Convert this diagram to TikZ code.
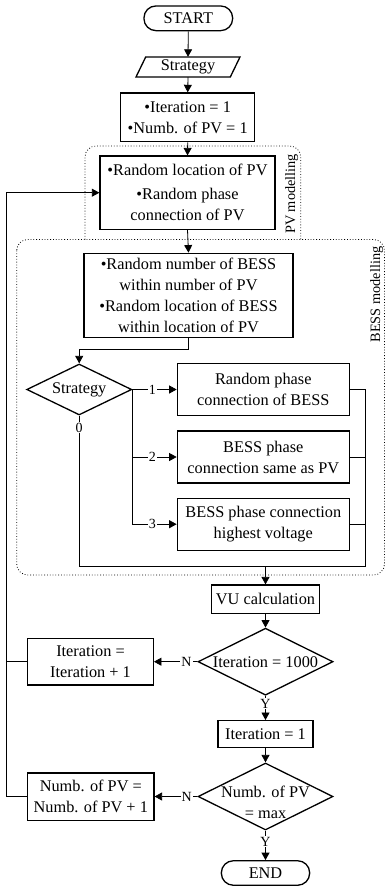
\documentclass[tikz,border=0pt]{standalone}
\usepackage{fontspec}
\setmainfont{Liberation Serif}
\usetikzlibrary{arrows.meta,shapes.geometric}
\newcommand\fsMain{\fontsize{16.3}{21}\selectfont}
\newcommand\fsLab{\fontsize{14}{16}\selectfont}
\newcommand\fsReg{\fontsize{14.3}{16}\selectfont}
\begin{document}
\begin{tikzpicture}[x=1pt,y=-1pt,
  box/.style={draw, line width=1.3pt, inner sep=0pt, align=center, font=\fsMain},
  term/.style={box, rounded corners=12pt},
  dia/.style={draw, line width=1.3pt, diamond, inner sep=0pt, aspect=2},
  txt/.style={inner sep=0pt, align=center, font=\fsMain},
  conn/.style={line width=0.8pt},
  arr/.style={conn, -{Triangle[length=7.5pt,width=8pt]}},
  lab/.style={fill=white, inner sep=1pt, font=\fsLab},
  region/.style={dotted, line width=0.8pt, rounded corners=11pt},
]
\useasboundingbox (0,0) rectangle (386,886);

% regions
\draw[region] (85,239.5) |- (300.7,146) -- (300.7,239.5);
\draw[region] (16.7,239.5) rectangle (384.5,575);
\node[font=\fsReg, rotate=90, inner sep=0pt] (pvlab) at (291.7,194) {PV modelling};
\node[font=\fsReg, rotate=90, inner sep=0pt] (besslab) at (376.7,294.5) {BESS modelling};

% nodes
\node[term, minimum width=88.7pt, minimum height=24.7pt] (start) at (188.3,18.3) {START};
\node[txt, minimum width=94pt, minimum height=20pt] (strat) at (188,67) {Strategy};
\draw[line width=1.3pt] (136,77) -- (145.7,57) -- (240,57) -- (230.3,77) -- cycle;
\node[box, minimum width=134pt, minimum height=48.7pt] (it1) at (187.7,117.3) {•Iteration = 1\\•Numb. of PV = 1};
\node[box, minimum width=175pt, minimum height=73.3pt] (pv) at (187.5,192.7) {•Random location of PV\\[3pt]•Random phase\\connection of PV};
\node[box, minimum width=209pt, minimum height=84.5pt] (bess) at (188.5,295.5) {•Random number of BESS\\within number of PV\\•Random location of BESS\\within location of PV};
\node[dia, minimum width=105pt, minimum height=51pt] (sdia) at (79.2,389.5) {};
\node[txt] (sdiat) at (79.2,389.5) {Strategy};
\node[box, minimum width=172pt, minimum height=52pt] (b1) at (263.3,389.5) {Random phase\\connection of BESS};
\node[box, minimum width=172pt, minimum height=52pt] (b2) at (263.3,457) {BESS phase\\connection same as PV};
\node[box, minimum width=172pt, minimum height=52pt] (b3) at (263.3,524.2) {BESS phase connection\\highest voltage};
\node[box, minimum width=107.6pt, minimum height=28.3pt] (vu) at (265.5,599.2) {VU calculation};
\node[dia, minimum width=135pt, minimum height=67pt] (d1) at (265.5,661.7) {};
\node[txt] (d1t) at (265.5,661.7) {Iteration = 1000};
\node[box, minimum width=125.6pt, minimum height=46.7pt] (inc) at (90.5,661.7) {Iteration =\\Iteration + 1};
\node[box, minimum width=95pt, minimum height=27pt] (it1b) at (265.5,734.2) {Iteration = 1};
\node[dia, minimum width=135pt, minimum height=67pt] (d2) at (265.5,796.5) {};
\node[txt] (d2t) at (265.5,802) {Numb. of PV\\= max};
\node[box, minimum width=126.3pt, minimum height=47.3pt] (pinc) at (90.8,796.5) {Numb. of PV =\\Numb. of PV + 1};
\node[term, minimum width=88.3pt, minimum height=24.5pt] (end) at (265.5,873) {END};

% coordinates
\coordinate (c0) at (79.2,566);
\coordinate (c1) at (365,566);
\coordinate (c2) at (365,389.5);
\coordinate (join) at (265.5,566);
\coordinate (lt) at (6.7,192.7);
\coordinate (lb) at (6.7,796.5);
\coordinate (lm) at (6.7,661.7);

% connectors
\draw[arr] (start.south) -- (strat.north);
\draw[arr] (strat.south) -- (it1.north);
\draw[arr] (it1.south) -- (pv.north);
\draw[arr] (pv.south) -- (bess.north);
\draw[arr] (bess.south) -- ++(0,10.5) -| (sdia.north);
\draw[arr] (sdia.east) -- node[lab, pos=0.45] {1} (b1.west);
\draw[arr] (sdia.east) |- node[lab, pos=0.725] {2} (b2.west);
\draw[arr] (sdia.east) |- node[lab, pos=0.725] {3} (b3.west);
\draw[conn] (sdia.south) -- node[lab, pos=0.08] {0} (c0) -- (c1) -- (c2) -- (b1.east);
\draw[conn] (b2.east) -- (b2.east -| c1);
\draw[conn] (b3.east) -- (b3.east -| c1);
\draw[arr] (join) -- (vu.north);
\draw[arr] (vu.south) -- (d1.north);
\draw[arr] (d1.west) -- node[lab, pos=0.25] {N} (inc.east);
\draw[arr] (d1.south) -- node[lab, pos=0.32] {Y} (it1b.north);
\draw[arr] (it1b.south) -- (d2.north);
\draw[arr] (d2.west) -- node[lab, pos=0.25] {N} (pinc.east);
\draw[arr] (d2.south) -- node[lab, pos=0.38] {Y} (end.north);
\draw[arr] (pinc.west) -- (lb) -- (lt) -- (pv.west);
\draw[conn] (inc.west) -- (lm);
\end{tikzpicture}
\end{document}
